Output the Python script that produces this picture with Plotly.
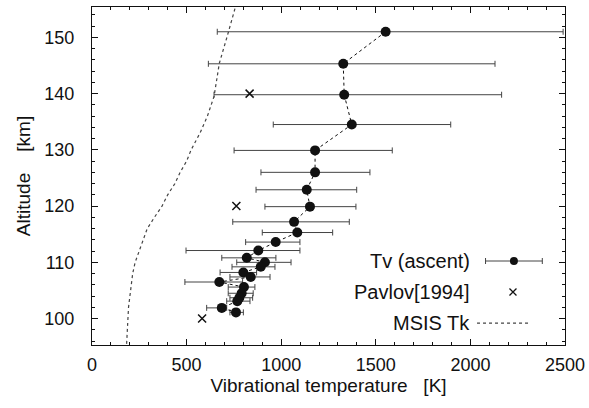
import plotly.graph_objects as go

# Tv (ascent): altitude [km], vibrational temperature [K], error bar extents [K]
tv_alt = [151.0, 145.3, 139.8, 134.5, 129.9, 126.0, 122.9, 119.9, 117.2, 115.3,
          113.6, 112.1, 110.8, 110.0, 109.2, 108.2, 107.4, 106.5, 105.6, 104.5,
          103.7, 103.1, 101.9, 101.1]
tv_temp = [1552, 1328, 1333, 1373, 1179, 1179, 1135, 1152, 1068, 1085,
           971, 879, 818, 914, 892, 800, 839, 673, 803, 791,
           779, 768, 686, 761]
tv_low = [662, 615, 645, 958, 751, 893, 867, 914, 744, 900,
          812, 497, 686, 765, 740, 677, 729, 491, 720, 720,
          729, 712, 606, 729]
tv_high = [2490, 2130, 2165, 1896, 1587, 1469, 1399, 1395, 1360, 1272,
           1099, 1099, 972, 1052, 967, 870, 941, 796, 861, 852,
           849, 835, 712, 800]

# Pavlov [1994]
pav_alt = [140, 120, 100]
pav_temp = [833, 763, 582]

# MSIS Tk
msis_alt = [95.5, 100, 102, 105, 108, 110, 112, 114, 116, 118, 120, 122, 124,
            126, 128, 130, 133, 136, 139.5, 142, 145.4, 150, 155.4]
msis_temp = [183, 188, 193, 204, 215, 228, 248, 268, 292, 330, 370, 400, 438,
             466, 500, 524, 571, 610, 645, 657, 673, 713, 758]

legend_labels = ["Tv (ascent)", "Pavlov[1994]", "MSIS Tk"]

FONT = "Liberation Sans, Arial, sans-serif"
INK = "#111111"

err_plus = [h - t for h, t in zip(tv_high, tv_temp)]
err_minus = [t - l for t, l in zip(tv_temp, tv_low)]

fig = go.Figure()

fig.add_trace(go.Scatter(
    x=msis_temp, y=msis_alt, mode="lines",
    line=dict(color="#444444", width=1.2, dash="dot"),
    showlegend=False, cliponaxis=True))

fig.add_trace(go.Scatter(
    x=tv_temp, y=tv_alt, mode="lines+markers",
    line=dict(color=INK, width=1, dash="dot"),
    marker=dict(color=INK, size=10, symbol="circle"),
    error_x=dict(type="data", symmetric=False, array=err_plus,
                 arrayminus=err_minus, color="#444444", thickness=1, width=3),
    showlegend=False))

fig.add_trace(go.Scatter(
    x=pav_temp, y=pav_alt, mode="markers",
    marker=dict(symbol="x-thin", size=8, line=dict(color=INK, width=1.5)),
    showlegend=False))

# Custom legend (text on left, sample on right) drawn on an overlay axis
leg_y = [0.2485, 0.157, 0.065]
fig.add_trace(go.Scatter(
    x=[0.892], y=[leg_y[0]], mode="markers", xaxis="x2", yaxis="y2",
    marker=dict(color=INK, size=8),
    error_x=dict(type="constant", value=0.06, color="#444444", thickness=1, width=3),
    showlegend=False, hoverinfo="skip"))
fig.add_trace(go.Scatter(
    x=[0.89], y=[leg_y[1]], mode="markers", xaxis="x2", yaxis="y2",
    marker=dict(symbol="x-thin", size=7, line=dict(color=INK, width=1.3)),
    showlegend=False, hoverinfo="skip"))
fig.add_trace(go.Scatter(
    x=[0.814, 0.926], y=[leg_y[2], leg_y[2]], mode="lines", xaxis="x2", yaxis="y2",
    line=dict(color="#444444", width=1.2, dash="dot"),
    showlegend=False, hoverinfo="skip"))

for lab, yy in zip(legend_labels, leg_y):
    fig.add_annotation(x=0.803, y=yy, xref="paper", yref="paper", text=lab,
                       showarrow=False, xanchor="right", yanchor="middle",
                       font=dict(family=FONT, size=20, color=INK))

axis_common = dict(
    showline=True, linecolor=INK, linewidth=1, mirror="ticks",
    ticks="inside", ticklen=6, tickcolor=INK, showgrid=False, zeroline=False,
    tickfont=dict(family=FONT, size=18, color=INK), automargin=False,
)

fig.update_layout(
    width=589, height=408,
    margin=dict(l=92, r=24, t=7, b=63),
    paper_bgcolor="white", plot_bgcolor="white",
    xaxis=dict(range=[0, 2500], dtick=500, tick0=0,
               minor=dict(ticks="inside", dtick=100, ticklen=3, tickcolor=INK),
               ticklabelstandoff=3,
               title=dict(text="Vibrational temperature\u00a0\u00a0\u00a0[K]",
                          font=dict(family=FONT, size=19, color=INK), standoff=4),
               **axis_common),
    yaxis=dict(range=[95.3, 155.4], dtick=10, tick0=100,
               minor=dict(ticks="inside", dtick=2, ticklen=3, tickcolor=INK),
               ticklabelstandoff=13,
               title=dict(text="Altitude\u00a0\u00a0\u00a0\u00a0[km]",
                          font=dict(family=FONT, size=19, color=INK), standoff=8),
               **axis_common),
    xaxis2=dict(range=[0, 1], overlaying="x", visible=False),
    yaxis2=dict(range=[0, 1], overlaying="y", visible=False),
    showlegend=False,
)

fig.write_html("out.html", config={"displayModeBar": False},
               post_script="document.body.style.margin='0';")
